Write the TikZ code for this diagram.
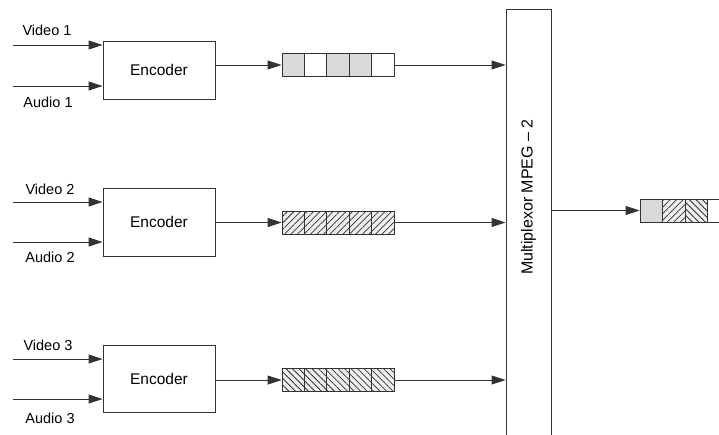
\documentclass[tikz,border=0pt]{standalone}
\usepackage{fontspec}
\setmainfont{Liberation Sans}
\usetikzlibrary{arrows.meta,patterns.meta}
\definecolor{lineDark}{HTML}{333333}
\definecolor{cellGray}{HTML}{D9D9D9}
\definecolor{hatchBg}{HTML}{EEEEEE}

\begin{document}
\begin{tikzpicture}[
  x=1pt,y=-1pt,
  >={Triangle[length=14pt,width=9pt]},
  enc/.style={draw=lineDark,fill=white,line width=0.9pt,minimum width=112pt,
    inner sep=0pt,font=\fontsize{15.5}{18}\selectfont},
  cell/.style={draw=lineDark,line width=0.9pt,minimum width=22.4pt,
    minimum height=23pt,inner sep=0pt},
  solidcell/.style={cell,fill=cellGray},
  emptycell/.style={cell,fill=white},
  necell/.style={cell,preaction={fill=hatchBg},
    pattern={Lines[angle=45,distance=4.6pt,line width=0.8pt]},pattern color=lineDark},
  nwcell/.style={cell,preaction={fill=hatchBg},
    pattern={Lines[angle=-45,distance=4.6pt,line width=0.8pt]},pattern color=lineDark},
  lbl/.style={inner sep=0pt,font=\fontsize{14.5}{17}\selectfont},
  arr/.style={->,line width=0.9pt,lineDark}
]
  \useasboundingbox (0,0) rectangle (719,434);
  \clip (0,0) rectangle (719,434);

  % encoders
  \node[enc,minimum height=58pt] (enc1) at (159,70) {Encoder};
  \node[enc,minimum height=68pt] (enc2) at (159,222) {Encoder};
  \node[enc,minimum height=67pt] (enc3) at (159,379) {Encoder};

  % multiplexer
  \node[draw=lineDark,fill=white,line width=0.9pt,minimum width=45pt,
    minimum height=440pt,anchor=north] (mux) at (528.5,9) {};
  \node[rotate=90,inner sep=0pt,font=\fontsize{16}{19}\selectfont] (muxtext)
    at (528.5,197) {Multiplexor MPEG -- 2};

  % inputs
  \coordinate (v1in) at (13,45);
  \coordinate (a1in) at (13,86);
  \coordinate (v2in) at (13,202);
  \coordinate (a2in) at (13,242);
  \coordinate (v3in) at (13,359);
  \coordinate (a3in) at (13,399);
  \draw[arr] (v1in) -- (v1in -| enc1.west);
  \draw[arr] (a1in) -- (a1in -| enc1.west);
  \draw[arr] (v2in) -- (v2in -| enc2.west);
  \draw[arr] (a2in) -- (a2in -| enc2.west);
  \draw[arr] (v3in) -- (v3in -| enc3.west);
  \draw[arr] (a3in) -- (a3in -| enc3.west);

  \node[lbl] (v1lbl) at (47,30.5) {Video 1};
  \node[lbl] (a1lbl) at (48,102.5) {Audio 1};
  \node[lbl] (v2lbl) at (50,189.5) {Video 2};
  \node[lbl] (a2lbl) at (50,257.5) {Audio 2};
  \node[lbl] (v3lbl) at (48,345) {Video 3};
  \node[lbl] (a3lbl) at (50,418) {Audio 3};

  % queues
  \foreach \k/\sty in {1/solidcell,2/emptycell,3/solidcell,4/solidcell,5/emptycell}
    \node[\sty] (qa\k) at ({282+22.4*(\k-0.5)},65) {};
  \foreach \k in {1,...,5}
    \node[necell] (qb\k) at ({282+22.4*(\k-0.5)},222.5) {};
  \foreach \k in {1,...,5}
    \node[nwcell] (qc\k) at ({282+22.4*(\k-0.5)},380) {};

  \draw[arr] (enc1.east |- qa1.west) -- (qa1.west);
  \draw[arr] (enc2.east |- qb1.west) -- (qb1.west);
  \draw[arr] (enc3.east |- qc1.west) -- (qc1.west);
  \draw[arr] (qa5.east) -- (qa5.east -| mux.west);
  \draw[arr] (qb5.east) -- (qb5.east -| mux.west);
  \draw[arr] (qc5.east) -- (qc5.east -| mux.west);

  % output
  \node[solidcell] (out1) at (651.25,210.5) {};
  \node[necell] (out2) at (673.75,210.5) {};
  \node[nwcell] (out3) at (696.25,210.5) {};
  \node[emptycell] (out4) at (718.75,210.5) {};
  \draw[arr] (mux.east |- out1.west) -- (out1.west);
\end{tikzpicture}
\end{document}
